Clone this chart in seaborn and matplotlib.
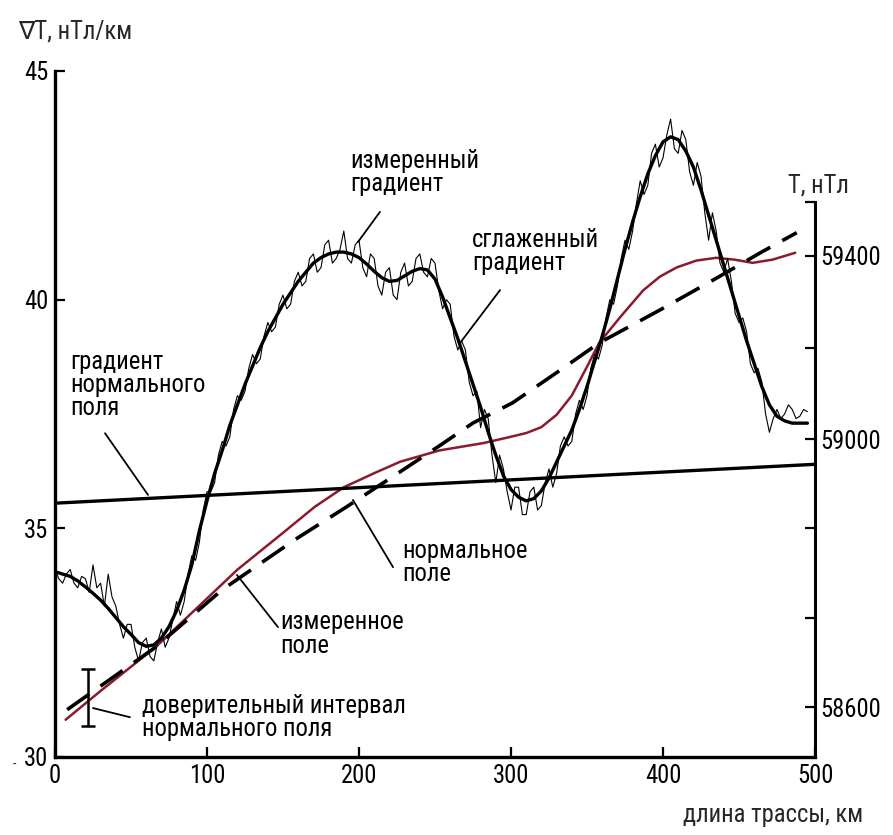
import numpy as np
import matplotlib
matplotlib.use("Agg")
import matplotlib.pyplot as plt
from matplotlib.ticker import FixedLocator, NullFormatter, FuncFormatter
import seaborn as sns

# ---------------- data ----------------
DIST = list(range(0, 500, 5))  # длина трассы, км (сглаженный градиент)

GRAD_SMOOTH = [
    34.05, 34.0, 33.95, 33.85, 33.72, 33.58, 33.43, 33.25, 33.05, 32.85,
    32.68, 32.5, 32.42, 32.45, 32.6, 32.85, 33.2, 33.65, 34.2, 34.95,
    35.6, 36.2, 36.7, 37.25, 37.7, 38.15, 38.55, 38.95, 39.3, 39.6,
    39.9, 40.15, 40.4, 40.6, 40.8, 40.92, 41.0, 41.04, 41.04, 41.0,
    40.92, 40.78, 40.62, 40.48, 40.4, 40.42, 40.52, 40.62, 40.68, 40.65,
    40.45, 40.06, 39.6, 39.15, 38.65, 38.15, 37.65, 37.1, 36.6, 36.15,
    35.85, 35.68, 35.6, 35.65, 35.82, 36.1, 36.45, 36.8, 37.15, 37.6,
    38.1, 38.65, 39.2, 39.8, 40.45, 41.1, 41.7, 42.25, 42.75, 43.15,
    43.45, 43.56, 43.5, 43.25, 42.9, 42.4, 41.85, 41.3, 40.75, 40.2,
    39.65, 39.1, 38.6, 38.1, 37.7, 37.45, 37.35, 37.3, 37.3, 37.3,
]

# измеренный градиент, every 2.5 km from 0 to 495 km
GRAD_RAW = [
    34.1, 33.9, 33.8, 34.0, 34.1, 33.8, 33.7, 33.95, 33.9, 33.6,
    34.2, 33.7, 33.8, 33.3, 34.0, 33.5, 33.3, 32.9, 32.6, 32.9,
    32.9, 32.4, 32.1, 32.5, 32.6, 32.2, 32.1, 32.5, 32.8, 32.4,
    32.6, 33.0, 33.4, 33.1, 33.4, 34.0, 34.4, 34.3, 34.7, 35.4,
    35.8, 35.8, 36.0, 36.6, 36.9, 36.8, 37.0, 37.6, 37.9, 37.8,
    38.0, 38.5, 38.8, 38.6, 38.7, 39.2, 39.5, 39.3, 39.4, 39.9,
    40.1, 39.8, 39.9, 40.4, 40.6, 40.3, 40.4, 40.9, 41.0, 40.6,
    40.7, 41.2, 41.3, 40.8, 40.9, 41.1, 41.5, 40.9, 40.8, 41.2,
    41.3, 40.7, 40.5, 41.0, 40.9, 40.3, 40.1, 40.6, 40.7, 40.1,
    40.0, 40.6, 40.8, 40.3, 40.4, 40.9, 41.0, 40.6, 40.5, 40.9,
    40.8, 40.2, 39.8, 40.0, 39.9, 39.2, 38.9, 39.1, 38.9, 38.2,
    37.9, 38.0, 37.2, 37.6, 37.4, 36.6, 36.0, 36.6, 36.3, 35.8,
    35.4, 35.9, 35.9, 35.3, 35.3, 35.8, 35.9, 35.4, 35.5, 36.0,
    36.3, 35.9, 36.2, 36.8, 37.0, 36.8, 36.9, 37.5, 37.8, 37.6,
    37.9, 38.5, 38.8, 38.7, 39.0, 39.6, 40.0, 39.9, 40.3, 40.9,
    41.3, 41.1, 41.5, 42.1, 42.6, 42.3, 42.5, 43.2, 43.4, 42.9,
    43.1, 43.6, 43.95, 43.3, 43.2, 43.7, 43.5, 42.8, 42.5, 43.0,
    42.7, 41.9, 41.3, 41.9, 41.5, 40.8, 40.6, 40.9, 40.4, 39.7,
    39.5, 39.6, 39.3, 38.6, 38.4, 38.5, 38.2, 37.5, 37.1, 37.4,
    37.6, 37.4, 37.5, 37.7, 37.6, 37.4, 37.45, 37.6, 37.55,
]
DIST_RAW = [i * 2.5 for i in range(len(GRAD_RAW))]

NORM_GRAD_X = [0, 500]
NORM_GRAD = [35.55, 36.4]

FIELD_X = [7, 30, 66, 100, 120, 150, 171, 190, 210, 227, 253, 282, 300, 310,
           320, 330, 340, 350, 358, 372, 387, 398, 409, 422, 435, 447, 459, 472, 487]
FIELD_T = [58581, 58624, 58689, 58762, 58805, 58860, 58899, 58928, 58949, 58966,
           58983, 58994, 59005, 59013, 59026, 59053, 59095, 59158, 59210, 59267,
           59325, 59355, 59375, 59390, 59396, 59392, 59385, 59392, 59407]

NORMAL_X = [8, 66, 110, 158, 192, 227, 253, 275, 301, 330, 358, 398, 437, 464, 488]
NORMAL_T = [58596, 58689, 58775, 58850, 58899, 58951, 58990, 59035, 59079, 59145,
            59210, 59282, 59355, 59407, 59451]

CI_X = [22]
CI_T = [58614]
CI_ERR = [43]

X_TICKS = [0, 100, 200, 300, 400, 500]
Y_TICKS = [30, 35, 40, 45]
T_TICKS = [58600, 59000, 59400]
T_MINOR = [58733.3, 58866.7, 59200, 59518]

# right-axis calibration as drawn in the original (nT -> gradient-axis units)
T_KNOTS = [58000, 58600, 59000, 59400, 60000]
G_KNOTS = [22.303, 31.093, 36.953, 40.955, 46.958]

# ---------------- style ----------------
sns.set_theme(style="ticks")
plt.rcParams['font.family'] = ['Roboto Condensed', 'DejaVu Sans']
FS = 17.7

W, H = 893, 835
fig = plt.figure(figsize=(W / 100, H / 100), dpi=100)
fig.patch.set_facecolor('white')

ax = fig.add_axes([55 / W, 1 - 757 / H, 760 / W, 686 / H])
ax2 = ax.twinx()


def fwd(v):
    return np.interp(v, T_KNOTS, G_KNOTS)


def inv(g):
    return np.interp(g, G_KNOTS, T_KNOTS)


ax2.set_yscale('function', functions=(fwd, inv))

RED = '#8a1a2c'
sns.lineplot(x=FIELD_X, y=FIELD_T, ax=ax2, color=RED, lw=1.8, sort=False)
sns.lineplot(x=NORMAL_X, y=NORMAL_T, ax=ax2, color='black', lw=2.6, sort=False)
ax2.lines[-1].set_dashes([7.5, 3.8])
ax2.errorbar(CI_X, CI_T, yerr=CI_ERR, fmt='none', ecolor='black',
             elinewidth=1.8, capsize=5, capthick=1.8)

sns.lineplot(x=NORM_GRAD_X, y=NORM_GRAD, ax=ax, color='black', lw=2.4)
sns.lineplot(x=DIST_RAW, y=GRAD_RAW, ax=ax, color='black', lw=0.8, sort=False)
sns.lineplot(x=DIST, y=GRAD_SMOOTH, ax=ax, color='black', lw=2.4)

ax.set_zorder(ax2.get_zorder() + 1)
ax.patch.set_visible(False)

ax.set_xlim(0, 500)
ax.set_ylim(30, 45)
ax2.set_ylim(inv(30), inv(45))

ax.set_xticks(X_TICKS)
ax.set_yticks(Y_TICKS)
ax.tick_params(direction='in', length=7, width=1.6, labelsize=FS, pad=5,
               colors='black')
ax.set_xlabel('')
ax.set_ylabel('')
ax2.set_ylabel('')

ax2.yaxis.set_major_locator(FixedLocator(T_TICKS))
ax2.yaxis.set_minor_locator(FixedLocator(T_MINOR))
ax2.yaxis.set_major_formatter(FuncFormatter(lambda v, p: f"{v:.0f}"))
ax2.yaxis.set_minor_formatter(NullFormatter())
ax2.tick_params(axis='y', which='both', direction='in', length=7, width=1.6,
                labelsize=FS, pad=4, colors='black')

for s in ['top', 'right']:
    ax.spines[s].set_visible(False)
for s in ['left', 'bottom']:
    ax.spines[s].set_linewidth(2.4)
    ax.spines[s].set_color('black')
for s in ['left', 'top', 'bottom']:
    ax2.spines[s].set_visible(False)
ax2.spines['right'].set_linewidth(2.2)
ax2.spines['right'].set_color('black')
ax2.spines['right'].set_bounds(inv(30), 59518)

# ---------------- annotations ----------------
labels = [
    ("измеренный\nградиент", 194.1, 42.78),
    ("сглаженный\nградиент", 274.3, 41.05),
    ("градиент\nнормального\nполя", 9.9, 38.13),
    ("нормальное\nполе", 228.3, 34.25),
    ("измеренное\nполе", 148.0, 32.69),
    ("доверительный интервал\nнормального поля", 57.2, 30.86),
]
for txt, x, y in labels:
    ax.text(x, y, txt, ha='left', va='center', fontsize=FS, linespacing=0.95,
            color='black')

leaders = [
    ((213.8, 41.92), (199.3, 41.26)),
    ((292.8, 40.21), (266.4, 39.05)),
    ((32.9, 37.08), (61.2, 35.73)),
    ((222.4, 34.15), (196.0, 35.62)),
    ((146.7, 32.84), (119.7, 33.98)),
    ((25.0, 31.07), (49.3, 30.87)),
]
for (x0, y0), (x1, y1) in leaders:
    ax.annotate('', xy=(x1, y1), xytext=(x0, y0),
                arrowprops=dict(arrowstyle='-', lw=1.3, color='black',
                                shrinkA=0, shrinkB=0))

fig.text(18 / W, 1 - 32 / H, "∇T, нТл/км", ha='left', va='center', fontsize=FS)
fig.text(788 / W, 1 - 185 / H, "T, нТл", ha='left', va='center', fontsize=FS)
fig.text(863 / W, 1 - 815 / H, "длина трассы, км", ha='right', va='center',
         fontsize=FS)
fig.text(14 / W, 1 - 765 / H, "-", ha='center', va='center', fontsize=10)

fig.savefig('out.png', dpi=100, facecolor='white')
